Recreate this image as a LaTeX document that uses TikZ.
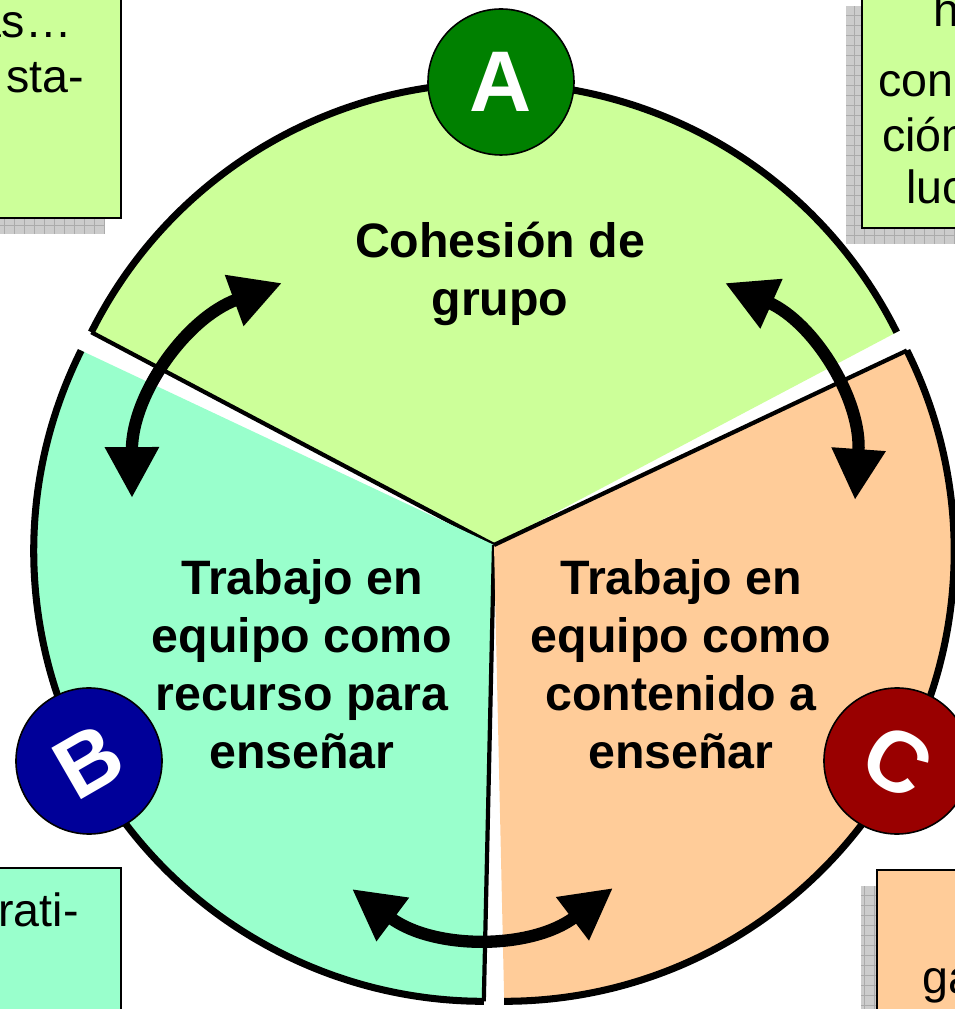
\documentclass[tikz,border=0pt]{standalone}
\usepackage{fontspec}
\setmainfont{Liberation Sans}
\usetikzlibrary{arrows.meta}
\definecolor{cohesion}{HTML}{CCFF99}
\definecolor{recurso}{HTML}{99FFCC}
\definecolor{contenido}{HTML}{FFCC99}
\definecolor{badgeA}{HTML}{008000}
\definecolor{badgeB}{HTML}{000099}
\definecolor{badgeC}{HTML}{990000}

\begin{document}
\begin{tikzpicture}[x=0.2mm, y=0.2mm,
		rim/.style={line width=4pt},
		sectoredge/.style={line width=2.4pt},
		bigarrow/.style={line width=7pt, {Triangle[length=29pt,width=29pt]}-{Triangle[length=29pt,width=29pt]}},
		badge/.style={circle, draw=black, line width=0.9pt, minimum size=29.2mm, inner sep=0pt, text=white, font=\fontsize{49}{49}\selectfont\bfseries},
		sectortext/.style={align=center, font=\fontsize{27.5}{33}\selectfont\bfseries},
		cornertext/.style={inner sep=0pt, font=\fontsize{26.5}{29}\selectfont},
		cornerbox/.style={draw=black, line width=0.8pt},
		boxshadow/.style={fill=black!20},
		shadowgrid/.style={draw=black!33, line width=0.4pt, step=10}]
				%defs
				\def\rad{450}
				\def\gap{12}
				\useasboundingbox (-494,-464) rectangle (460,545);
				\coordinate (o) at (0,0);
				\coordinate (lt) at (-212,262);
				\coordinate (lb) at (-362,47);
				\coordinate (rt) at (231,262);
				\coordinate (rb) at (361,45);
				\coordinate (bl) at (-142,-344);
				\coordinate (br) at (119,-343);
				%corner boxes
				\fill[boxshadow] (-520,311) rectangle (-389,539);
				\draw[shadowgrid] (-520,311) grid (-389,539);
				\draw[cornerbox, fill=cohesion] (-504,327) rectangle (-373,555);
				\fill[boxshadow] (352,301) rectangle (460,539);
				\draw[shadowgrid] (352,301) grid (460,539);
				\draw[cornerbox, fill=cohesion] (368,317) rectangle (476,555);
				\draw[cornerbox, fill=recurso] (-504,-475) rectangle (-373,-323);
				\fill[boxshadow] (367,-491) rectangle (460,-341);
				\draw[shadowgrid] (367,-491) grid (460,-341);
				\draw[cornerbox, fill=contenido] (383,-475) rectangle (476,-325);
				%sectors
				\begin{scope}[shift={(90:\gap)}]
					\fill[cohesion] (o) -- (26.5:\rad) arc[start angle=26.5, end angle=153.5, radius=\rad] -- cycle;
					\draw[rim] (26.5:\rad) arc[start angle=26.5, end angle=153.5, radius=\rad];
					\draw[sectoredge] (153.5:\rad) -- (o);
				\end{scope}
				\begin{scope}[shift={(211.75:\gap)}]
					\fill[recurso] (o) -- (153.5:\rad) arc[start angle=153.5, end angle=270, radius=\rad] -- cycle;
					\draw[rim] (153.5:\rad) arc[start angle=153.5, end angle=270, radius=\rad];
					\draw[sectoredge] (270:\rad) -- (o);
				\end{scope}
				\begin{scope}[shift={(328.25:\gap)}]
					\fill[contenido] (o) -- (270:\rad) arc[start angle=270, end angle=386.5, radius=\rad] -- cycle;
					\draw[rim] (270:\rad) arc[start angle=270, end angle=386.5, radius=\rad];
					\draw[sectoredge] (386.5:\rad) -- (o);
				\end{scope}
				%arrows
				\draw[bigarrow] (lt) to[bend right=35] (lb);
				\draw[bigarrow] (rt) to[bend left=35] (rb);
				\draw[bigarrow] (bl) to[bend right=37] (br);
				%badges
				\node[badge, fill=badgeA] (A) at (7,463) {A};
				\node[badge, fill=badgeB, rotate=30] (B) at (-405,-216) {B};
				\node[badge, fill=badgeC, rotate=-30] (C) at (403,-216) {C};
				%Labels
				\node[sectortext] (grupo) at (6,271) {Cohesión de\\grupo};
				\node[sectortext] (recursoTxt) at (-192,-119) {Trabajo en\\equipo como\\recurso para\\enseñar};
				\node[sectortext] (contenidoTxt) at (187,-119) {Trabajo en\\equipo como\\contenido a\\enseñar};
				\node[cornertext, anchor=base east] (tl1) at (-422,507) {as…};
				\node[cornertext, anchor=base west] (tl2) at (-488,452) {sta-};
				\node[cornertext, anchor=base west] (tr1) at (439,518) {h};
				\node[cornertext, anchor=base west] (tr2) at (384,448) {con};
				\node[cornertext, anchor=base west] (tr3) at (388,393) {ción};
				\node[cornertext, anchor=base west] (tr4) at (412,341) {luc};
				\node[cornertext, anchor=base west] (bl1) at (-496,-381) {rati-};
				\node[cornertext, anchor=base west] (br1) at (428,-448) {ga};
			\end{tikzpicture}
\end{document}
